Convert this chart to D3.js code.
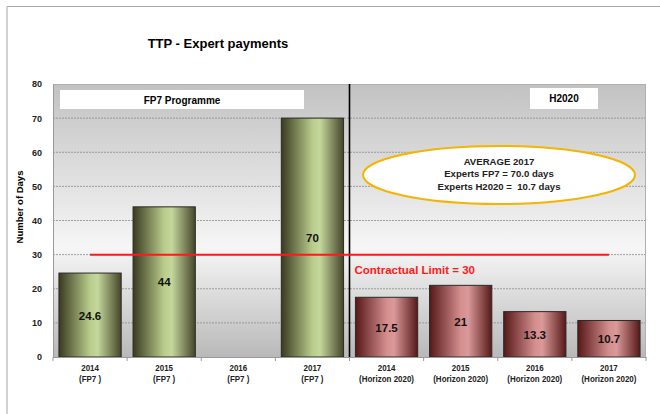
<!DOCTYPE html>
<html lang="en">
<head>
<meta charset="UTF-8">
<title>TTP - Expert payments</title>
<script src="https://d3js.org/d3.v7.min.js"></script>
<style>
  body { margin: 0; background: #fff; }
  text { font-family: "Liberation Sans", Arial, sans-serif; }
</style>
</head>
<body>
<div id="chart"></div>
<script>
// data
const years = ["2014", "2015", "2016", "2017", "2014", "2015", "2016", "2017"];
const programmes = ["(FP7 )", "(FP7 )", "(FP7 )", "(FP7 )",
  "(Horizon 2020)", "(Horizon 2020)", "(Horizon 2020)", "(Horizon 2020)"];
const fp7Values = [24.6, 44, null, 70];
const h2020Values = [17.5, 21, 13.3, 10.7];
const yTicks = [0, 10, 20, 30, 40, 50, 60, 70, 80];
const contractualLimit = 30;

const categories = years.map((y, i) => i);
const bars = [
  ...fp7Values.map((v, i) => ({ idx: i, value: v, group: "fp7" })),
  ...h2020Values.map((v, i) => ({ idx: i + 4, value: v, group: "h2020" }))
].filter(d => d.value != null);

const W = 660, H = 414;
const margin = { top: 84, right: 14, bottom: 57, left: 53 };
const width = W - margin.left - margin.right;
const height = H - margin.top - margin.bottom;

const svg = d3.select("#chart").append("svg")
  .attr("width", W).attr("height", H);

// outer frame
svg.append("path")
  .attr("d", `M7,${H} V6.5 H${W}`)
  .attr("fill", "none").attr("stroke", "#a6a6a6").attr("stroke-width", 1);

const defs = svg.append("defs");
const bg = defs.append("linearGradient").attr("id", "bg")
  .attr("x1", 0).attr("y1", 0).attr("x2", 0).attr("y2", 1);
bg.append("stop").attr("offset", "0%").attr("stop-color", "#c2c2c2");
bg.append("stop").attr("offset", "60%").attr("stop-color", "#f6f6f6");
bg.append("stop").attr("offset", "100%").attr("stop-color", "#b9b9b9");

const gGreen = defs.append("linearGradient").attr("id", "green");
gGreen.append("stop").attr("offset", "0%").attr("stop-color", "#3a3a20");
gGreen.append("stop").attr("offset", "50%").attr("stop-color", "#b9cc8c");
gGreen.append("stop").attr("offset", "62%").attr("stop-color", "#c5d89c");
gGreen.append("stop").attr("offset", "100%").attr("stop-color", "#45452a");

const gRed = defs.append("linearGradient").attr("id", "red");
gRed.append("stop").attr("offset", "0%").attr("stop-color", "#571818");
gRed.append("stop").attr("offset", "50%").attr("stop-color", "#d48e8e");
gRed.append("stop").attr("offset", "62%").attr("stop-color", "#db9999");
gRed.append("stop").attr("offset", "100%").attr("stop-color", "#551818");

const g = svg.append("g").attr("transform", `translate(${margin.left},${margin.top})`);

const x = d3.scaleBand().domain(categories).range([0, width]).paddingInner(0.16).paddingOuter(0.08);
const xb = d3.scaleBand().domain(categories).range([0, width]);
const y = d3.scaleLinear().domain([0, 80]).range([height, 0]);

// plot background
g.append("rect").attr("width", width).attr("height", height).attr("fill", "url(#bg)");

// gridlines
g.selectAll(".grid").data(yTicks.slice(1, -1)).enter().append("line")
  .attr("x1", 0).attr("x2", width)
  .attr("y1", d => y(d)).attr("y2", d => y(d))
  .attr("stroke", "#8c8c8c").attr("stroke-width", 0.8).attr("stroke-dasharray", "2,1");
g.append("line").attr("x1", 0).attr("x2", width).attr("y1", 0.5).attr("y2", 0.5)
  .attr("stroke", "#b0b0b0");
g.append("line").attr("x1", width - 0.5).attr("x2", width - 0.5).attr("y1", 0).attr("y2", height)
  .attr("stroke", "#b0b0b0");

// programme boxes
g.append("rect").attr("x", 7).attr("y", 6).attr("width", 244).attr("height", 19).attr("fill", "#fff");
g.append("text").attr("x", 7 + 122).attr("y", 19.5).attr("text-anchor", "middle")
  .attr("font-size", 10).attr("font-weight", "bold").text("FP7 Programme");
g.append("rect").attr("x", 477).attr("y", 4).attr("width", 68).attr("height", 21).attr("fill", "#fff");
g.append("text").attr("x", 511).attr("y", 18).attr("text-anchor", "middle")
  .attr("font-size", 10).attr("font-weight", "bold").text("H2020");

// bars
g.selectAll(".bar").data(bars).enter().append("rect")
  .attr("x", d => x(d.idx))
  .attr("y", d => y(d.value))
  .attr("width", x.bandwidth())
  .attr("height", d => height - y(d.value))
  .attr("fill", d => d.group === "fp7" ? "url(#green)" : "url(#red)")
  .attr("stroke", "#2a2a2a").attr("stroke-width", 1);

// divider between programmes
g.append("line")
  .attr("x1", xb(4)).attr("x2", xb(4)).attr("y1", 0).attr("y2", height)
  .attr("stroke", "#000").attr("stroke-width", 1.6);

// contractual limit
g.append("line")
  .attr("x1", xb(0) + xb.bandwidth() / 2).attr("x2", xb(7) + xb.bandwidth() / 2)
  .attr("y1", y(contractualLimit)).attr("y2", y(contractualLimit))
  .attr("stroke", "#ff1a1a").attr("stroke-width", 2);
g.append("text").attr("x", xb(4) + 5).attr("y", y(contractualLimit) + 19)
  .attr("fill", "#ff1a1a").attr("font-size", 11.5).attr("font-weight", "bold")
  .text("Contractual Limit = " + contractualLimit);

// value labels
g.selectAll(".val").data(bars).enter().append("text")
  .attr("x", d => x(d.idx) + x.bandwidth() / 2)
  .attr("y", d => (y(d.value) + height) / 2 + 4.5)
  .attr("text-anchor", "middle").attr("font-size", 11.5).attr("font-weight", "bold")
  .attr("fill", "#111")
  .text(d => d.value);

// average ellipse
g.append("ellipse").attr("cx", 446).attr("cy", 91).attr("rx", 136).attr("ry", 29)
  .attr("fill", "#fff").attr("stroke", "#f5b400").attr("stroke-width", 2);
const avgLines = ["AVERAGE 2017", "Experts FP7 = 70.0 days", "Experts H2020 =  10.7 days"];
g.selectAll(".avg").data(avgLines).enter().append("text")
  .attr("x", 446).attr("y", (d, i) => 80.5 + i * 12.7)
  .attr("text-anchor", "middle").attr("font-size", 9.6).attr("font-weight", "bold")
  .attr("fill", "#222")
  .attr("xml:space", "preserve")
  .text(d => d);

// y axis
const yAxis = g.append("g")
  .call(d3.axisLeft(y).tickValues(yTicks).tickSize(0).tickPadding(11));
yAxis.select(".domain").attr("stroke", "#9a9a9a");
yAxis.selectAll("text").attr("font-size", 9).attr("font-weight", "bold").attr("fill", "#222")
  .attr("font-family", "'Liberation Sans', Arial, sans-serif");

// x axis
const xAxis = g.append("g").attr("transform", `translate(0,${height})`)
  .call(d3.axisBottom(xb).tickSize(0).tickFormat(""));
xAxis.select(".domain").attr("stroke", "#9a9a9a");
g.selectAll(".xtick").data(d3.range(9)).enter().append("line")
  .attr("x1", d => d * xb.step()).attr("x2", d => d * xb.step())
  .attr("y1", height).attr("y2", height + 4).attr("stroke", "#9a9a9a");
// condensed two-line category labels
const xl = g.selectAll(".xlab").data(categories).enter().append("g")
  .attr("transform", d => `translate(${xb(d) + xb.bandwidth() / 2},${height + 14}) scale(0.84,1)`)
  .append("text")
  .attr("text-anchor", "middle").attr("font-size", 9.5).attr("font-weight", "bold").attr("fill", "#222");
xl.append("tspan").attr("x", 0).text(d => years[d]);
xl.append("tspan").attr("x", 0).attr("dy", 11).text(d => programmes[d]);

// y title
svg.append("text")
  .attr("transform", `translate(23,207) rotate(-90)`)
  .attr("text-anchor", "middle").attr("font-size", 9.5).attr("font-weight", "bold")
  .text("Number of Days");

// title
svg.append("text").attr("x", 218).attr("y", 48).attr("text-anchor", "middle")
  .attr("font-size", 13).attr("font-weight", "bold").text("TTP - Expert payments");
</script>
</body>
</html>
